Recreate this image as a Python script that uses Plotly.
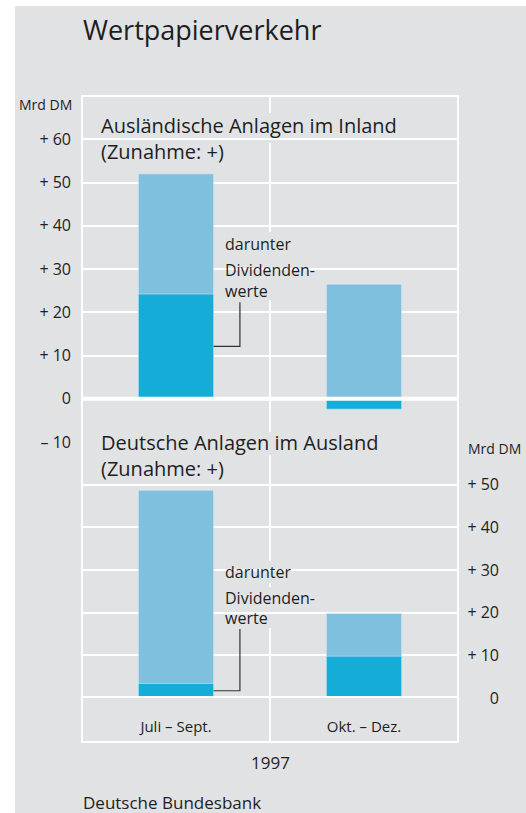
import plotly.graph_objects as go

# ---------------- data ----------------
categories = ["Juli – Sept.", "Okt. – Dez."]
inland_total = [52.0, 26.5]        # Ausländische Anlagen im Inland
inland_dividend = [24.2, -2.4]     # darunter Dividendenwerte
ausland_total = [48.7, 19.8]       # Deutsche Anlagen im Ausland
ausland_dividend = [3.4, 9.8]      # darunter Dividendenwerte

top_ticks = [-10, 0, 10, 20, 30, 40, 50, 60]
top_tick_labels = ["– 10", "0", "+ 10", "+ 20", "+ 30", "+ 40", "+ 50", "+ 60"]
bottom_grid = [0, 10, 20, 30, 40, 50, 60]
bottom_ticks = [0, 10, 20, 30, 40, 50]
bottom_tick_labels = ["0", "+ 10", "+ 20", "+ 30", "+ 40", "+ 50"]

# ---------------- style ----------------
BG = "#e1e2e4"
LIGHT = "#80c0df"
DARK = "#15acd8"
TXT = "#1e1e1e"
FONT = "Open Sans"

W_FIG, H_FIG = 526, 813
ML, MR, MT, MB = 82, 10, 96, 71
PW = W_FIG - ML - MR
PH = H_FIG - MT - MB


def px_x(px):
    return (px - ML) / PW


def px_y(py):
    return (MT + PH - py) / PH


X_DOM = [0, px_x(458)]
Y_TOP = [px_y(442), 1]
Y_BOT = [px_y(698), px_y(442)]

fig = go.Figure()

fig.add_trace(go.Bar(x=categories, y=inland_total, marker_color=LIGHT, width=0.4,
                     xaxis="x", yaxis="y", hoverinfo="skip"))
fig.add_trace(go.Bar(x=categories, y=inland_dividend, marker_color=DARK, width=0.4,
                     xaxis="x", yaxis="y", hoverinfo="skip"))
fig.add_trace(go.Bar(x=categories, y=ausland_total, marker_color=LIGHT, width=0.4,
                     xaxis="x2", yaxis="y2", hoverinfo="skip"))
fig.add_trace(go.Bar(x=categories, y=ausland_dividend, marker_color=DARK, width=0.4,
                     xaxis="x2", yaxis="y2", hoverinfo="skip"))
# invisible trace to carry the right-hand label axis
fig.add_trace(go.Scatter(x=[categories[0]], y=[0], mode="markers", marker=dict(opacity=0),
                         xaxis="x2", yaxis="y3", hoverinfo="skip"))

tickfont = dict(family=FONT, size=16, color=TXT)

fig.update_layout(
    width=W_FIG, height=H_FIG,
    margin=dict(l=ML, r=MR, t=MT, b=MB),
    paper_bgcolor="white", plot_bgcolor=BG,
    barmode="overlay", showlegend=False,
    font=dict(family=FONT, color=TXT),
    xaxis=dict(domain=X_DOM, anchor="y", type="category", range=[-0.5, 1.5],
               showticklabels=False, showgrid=False, zeroline=False, showline=False, ticks=""),
    xaxis2=dict(domain=X_DOM, anchor="y2", type="category", range=[-0.5, 1.5],
                showgrid=False, zeroline=False, showline=False, ticks="",
                tickfont=dict(family=FONT, size=15, color=TXT), ticklabelstandoff=18),
    yaxis=dict(domain=Y_TOP, anchor="x", range=[-10, 70], tickvals=top_ticks,
               ticktext=top_tick_labels, showgrid=True, gridcolor="white", gridwidth=2,
               zeroline=False, showline=False, ticks="", tickfont=tickfont,
               ticklabelstandoff=10),
    yaxis2=dict(domain=Y_BOT, anchor="x2", range=[0, 60], tickvals=bottom_grid,
                showticklabels=False, showgrid=True, gridcolor="white", gridwidth=2,
                zeroline=False, showline=False, ticks=""),
    yaxis3=dict(overlaying="y2", anchor="free", position=px_x(499), side="left",
                range=[0, 60], tickvals=bottom_ticks, ticktext=bottom_tick_labels,
                showgrid=False, zeroline=False, showline=False, ticks="",
                tickfont=tickfont, ticklabelstandoff=0),
)


def cover(x0, x1, y0, y1):
    """grey patch that hides grid lines behind a text block (pixel coords)"""
    return dict(type="rect", xref="paper", yref="paper", x0=px_x(x0), x1=px_x(x1),
                y0=px_y(y1), y1=px_y(y0), fillcolor=BG, line_width=0, layer="between")


shapes = [
    # grey page background
    dict(type="rect", xref="paper", yref="paper", x0=px_x(15), x1=px_x(526),
         y0=px_y(813), y1=px_y(6), fillcolor=BG, line_width=0, layer="below"),
    # frame
    dict(type="rect", xref="paper", yref="paper", x0=X_DOM[0], x1=X_DOM[1], y0=0, y1=1,
         line=dict(color="white", width=2), fillcolor="rgba(0,0,0,0)", layer="between"),
    # middle separator
    dict(type="line", xref="x", yref="paper", x0=0.5, x1=0.5, y0=0, y1=1,
         line=dict(color="white", width=2), layer="between"),
    # patches behind texts
    cover(97, 456, 113, 143),
    cover(97, 390, 432, 455),
    cover(220, 320, 232, 300),
    cover(221, 294, 561, 583),
    cover(221, 318, 587, 608),
    cover(221, 273, 608, 628),
    # zero lines
    dict(type="line", xref="paper", yref="y", x0=X_DOM[0], x1=X_DOM[1], y0=0, y1=0,
         line=dict(color="white", width=4), layer="above"),
    dict(type="line", xref="paper", yref="y2", x0=X_DOM[0], x1=X_DOM[1], y0=0, y1=0,
         line=dict(color="white", width=4), layer="above"),
]

# leader lines for "darunter Dividendenwerte"
lead_x = 0.34
for yref, div, top in (("y", inland_dividend[0], 22.3), ("y2", ausland_dividend[0], 16.2)):
    ym = div / 2
    shapes.append(dict(type="path", xref="x", yref=yref,
                       path=f"M 0.2,{ym} L {lead_x},{ym} L {lead_x},{top}",
                       line=dict(color="#333333", width=1.2), layer="above"))
fig.update_layout(shapes=shapes)

ann = []


def add_text(text, x, y, size, xanchor="left"):
    ann.append(dict(text=text, xref="paper", yref="paper", x=px_x(x), y=px_y(y),
                    xanchor=xanchor, yanchor="middle", showarrow=False, align="left",
                    font=dict(family=FONT, size=size, color=TXT)))


add_text("Wertpapierverkehr", 81, 30, 27)
add_text("Mrd DM", 74, 104, 14, xanchor="right")
add_text("Mrd DM", 466, 448, 14)

add_text("Ausländische Anlagen im Inland<br>(Zunahme: +)", 99, 138, 20)
add_text("Deutsche Anlagen im Ausland<br>(Zunahme: +)", 99, 455, 20)

for yy, t in zip((244, 270, 291), ("darunter", "Dividenden-", "werte")):
    add_text(t, 223, yy, 16)
for yy, t in zip((572, 598, 618), ("darunter", "Dividenden-", "werte")):
    add_text(t, 223, yy, 16)

add_text("1997", 270, 762, 17, xanchor="center")
add_text("Deutsche Bundesbank", 81, 802, 17)

fig.update_layout(annotations=ann)

fig.write_html("out.html", config={"displayModeBar": False},
               post_script="document.body.style.margin='0';document.body.style.overflow='hidden';")
